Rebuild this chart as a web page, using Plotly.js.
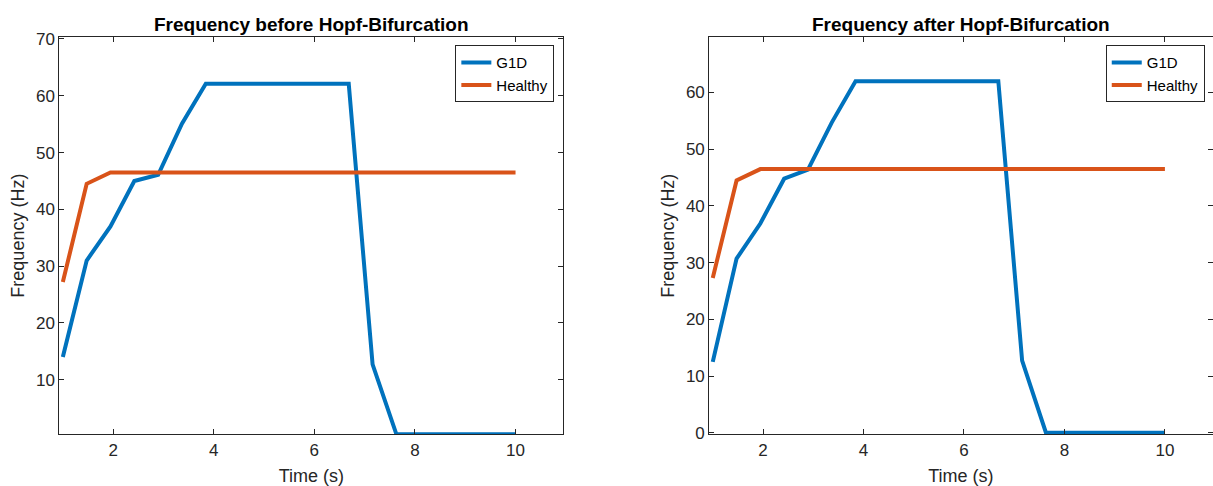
<!DOCTYPE html>
<html>
<head>
<meta charset="utf-8">
<script src="https://cdn.plot.ly/plotly-3.0.1.min.js"></script>
<style>html,body{margin:0;padding:0;background:#fff;}#chart{width:1213px;height:486px;}</style>
</head>
<body>
<div id="chart"></div>
<script>
// Time samples (s)
const time = [1, 1.474, 1.947, 2.421, 2.895, 3.368, 3.842, 4.316, 4.789, 5.263, 5.737, 6.211, 6.684, 7.158, 7.632, 8.105, 8.579, 9.053, 9.526, 10];
// Before Hopf-Bifurcation
const g1dBefore = [14.0, 31.0, 37.0, 45.0, 46.1, 55.1, 62.1, 62.1, 62.1, 62.1, 62.1, 62.1, 62.1, 12.7, 0.4, 0.4, 0.4, 0.4, 0.4, 0.4];
const healthyBefore = [27.2, 44.5, 46.5, 46.5, 46.5, 46.5, 46.5, 46.5, 46.5, 46.5, 46.5, 46.5, 46.5, 46.5, 46.5, 46.5, 46.5, 46.5, 46.5, 46.5];
// After Hopf-Bifurcation
const g1dAfter = [12.5, 30.7, 36.9, 44.8, 46.4, 54.7, 62.0, 62.0, 62.0, 62.0, 62.0, 62.0, 62.0, 12.7, 0, 0, 0, 0, 0, 0];
const healthyAfter = [27.3, 44.5, 46.5, 46.5, 46.5, 46.5, 46.5, 46.5, 46.5, 46.5, 46.5, 46.5, 46.5, 46.5, 46.5, 46.5, 46.5, 46.5, 46.5, 46.5];

const seriesNames = ["G1D", "Healthy"];
const titles = ["Frequency before Hopf-Bifurcation", "Frequency after Hopf-Bifurcation"];
const xTicks = [2, 4, 6, 8, 10];
const yTicksLeft = [10, 20, 30, 40, 50, 60, 70];
const yTicksRight = [0, 10, 20, 30, 40, 50, 60];

const BLUE = "#0072BD", ORANGE = "#D95319", AX = "#262626";
const FONT = "Liberation Sans, Arial, Helvetica, sans-serif";

const traces = [
  {x: time, y: g1dBefore, name: seriesNames[0], xaxis: "x", yaxis: "y", legend: "legend", mode: "lines", line: {color: BLUE, width: 4}},
  {x: time, y: healthyBefore, name: seriesNames[1], xaxis: "x", yaxis: "y", legend: "legend", mode: "lines", line: {color: ORANGE, width: 4}},
  {x: time, y: g1dAfter, name: seriesNames[0], xaxis: "x2", yaxis: "y2", legend: "legend2", mode: "lines", line: {color: BLUE, width: 4}},
  {x: time, y: healthyAfter, name: seriesNames[1], xaxis: "x2", yaxis: "y2", legend: "legend2", mode: "lines", line: {color: ORANGE, width: 4}}
];

function xax(domain, anchor) {
  return {
    domain: domain, anchor: anchor, range: [0.93, 10.95], tickvals: xTicks, ticktext: xTicks.map(String),
    ticks: "inside", ticklen: 5, tickcolor: AX, showline: true, linecolor: AX, linewidth: 1, mirror: "ticks",
    showgrid: false, zeroline: false, automargin: false,
    tickfont: {family: FONT, size: 17, color: AX},
    title: {text: "Time (s)", font: {family: FONT, size: 18, color: AX}, standoff: 10}
  };
}
function yax(domain, anchor, range, ticks) {
  return {
    domain: domain, anchor: anchor, range: range, tickvals: ticks, ticktext: ticks.map(String),
    ticks: "inside", ticklen: 5, tickcolor: AX, showline: true, linecolor: AX, linewidth: 1, mirror: "ticks",
    showgrid: false, zeroline: false, automargin: false,
    tickfont: {family: FONT, size: 17, color: AX},
    title: {text: "Frequency (Hz)", font: {family: FONT, size: 18, color: AX}, standoff: 6}
  };
}

const legendStyle = (x) => ({
  x: x, y: 0.907, xanchor: "right", yanchor: "top", xref: "paper", yref: "paper",
  bgcolor: "#ffffff", bordercolor: AX, borderwidth: 1,
  font: {family: FONT, size: 15, color: "#000"}, itemwidth: 30, tracegroupgap: 0
});

const layout = {
  width: 1213, height: 486,
  margin: {l: 0, r: 0, t: 0, b: 0},
  paper_bgcolor: "#ffffff", plot_bgcolor: "#ffffff",
  font: {family: FONT, color: AX},
  xaxis: xax([0.0489, 0.4644], "y"),
  yaxis: yax([0.1064, 0.9239], "x", [0.4, 70.35], yTicksLeft),
  xaxis2: xax([0.5847, 0.9997], "y2"),
  yaxis2: yax([0.1064, 0.9239], "x2", [-0.28, 69.8], yTicksRight),
  legend: legendStyle(0.457),
  legend2: legendStyle(0.9932),
  annotations: [
    {text: "<b>" + titles[0] + "</b>", x: (0.0489 + 0.4644) / 2, y: 0.949, xref: "paper", yref: "paper", xanchor: "center", yanchor: "middle", showarrow: false, font: {family: FONT, size: 19, color: "#000"}},
    {text: "<b>" + titles[1] + "</b>", x: (0.5847 + 0.9997) / 2, y: 0.949, xref: "paper", yref: "paper", xanchor: "center", yanchor: "middle", showarrow: false, font: {family: FONT, size: 19, color: "#000"}}
  ]
};

Plotly.newPlot("chart", traces, layout, {displayModeBar: false, staticPlot: true});
</script>
</body>
</html>
